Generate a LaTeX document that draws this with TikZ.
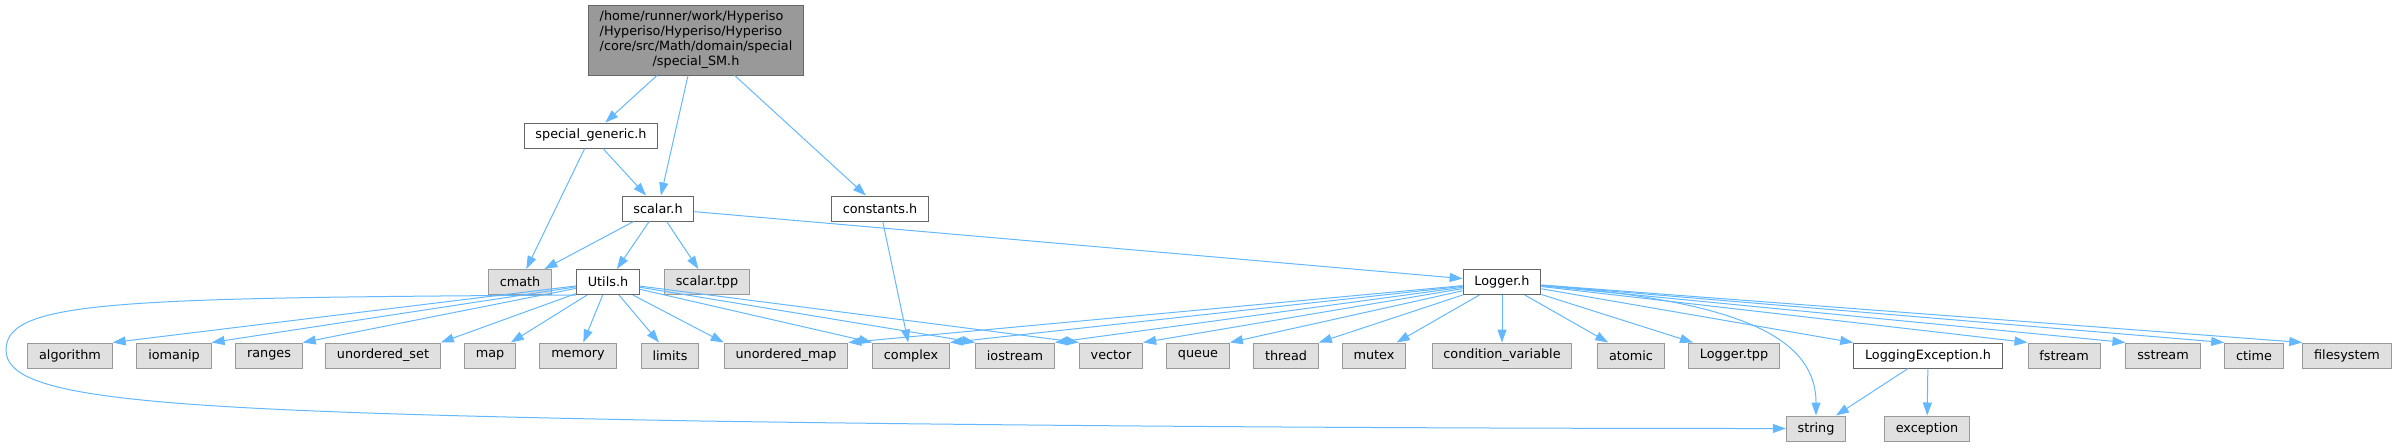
\documentclass[tikz,border=0pt]{standalone}
\usepackage{fontspec}
\setmainfont{DejaVu Sans}
\usetikzlibrary{arrows.meta}
\definecolor{edgeblue}{HTML}{63B8FF}
\definecolor{sysfill}{HTML}{E0E0E0}
\definecolor{sysdraw}{HTML}{999999}
\definecolor{rootfill}{HTML}{999999}
\definecolor{filedraw}{HTML}{666666}
\tikzset{
  base box/.style={rectangle, inner xsep=8.5pt, inner ysep=0pt, minimum height=18.75pt, line width=0.75pt, text=black, font=\fontsize{9.6pt}{11.25pt}\selectfont},
  root node/.style={base box, fill=rootfill, draw=filedraw, minimum height=52.5pt},
  file node/.style={base box, fill=white, draw=filedraw},
  sys node/.style={base box, fill=sysfill, draw=sysdraw},
  dep line/.style={-{Triangle[length=9.75pt, width=6.75pt]}, line width=0.75pt, edgeblue},
}

\begin{document}
\begin{tikzpicture}[x=0.75pt, y=-0.75pt]
  \useasboundingbox (0,0) rectangle (2404,447);
  % headers of the project
  \node[root node] (root) at (696,40) {\begin{tabular}{@{}l@{}}/home/runner/work/Hyperiso\\/Hyperiso/Hyperiso/Hyperiso\\/core/src/Math/domain/special\\\multicolumn{1}{@{}c@{}}{/special\_SM.h}\end{tabular}};
  \node[file node] (generic) at (591,135.5) {special\_generic.h};
  \node[file node] (scalar) at (658,208.5) {scalar.h};
  \node[file node] (constants) at (880,208.5) {constants.h};
  \node[file node] (utils) at (608,282) {Utils.h};
  \node[file node] (logger) at (1502,282) {Logger.h};
  \node[file node] (loggingexc) at (1928,355.5) {LoggingException.h};
  % system headers
  \node[sys node] (cmath) at (520,282) {cmath};
  \node[sys node] (scalartpp) at (707,282) {scalar.tpp};
  \node[sys node] (algorithm) at (70,355.5) {algorithm};
  \node[sys node] (iomanip) at (174,355.5) {iomanip};
  \node[sys node] (ranges) at (269,355.5) {ranges};
  \node[sys node] (unorderedset) at (383,355.5) {unordered\_set};
  \node[sys node] (map) at (490,355.5) {map};
  \node[sys node] (memory) at (578,355.5) {memory};
  \node[sys node] (limits) at (670,355.5) {limits};
  \node[sys node] (unorderedmap) at (786,355.5) {unordered\_map};
  \node[sys node] (complex) at (911,355.5) {complex};
  \node[sys node] (iostream) at (1015,355.5) {iostream};
  \node[sys node] (vector) at (1111,355.5) {vector};
  \node[sys node] (queue) at (1198,355.5) {queue};
  \node[sys node] (thread) at (1286,355.5) {thread};
  \node[sys node] (mutex) at (1374,355.5) {mutex};
  \node[sys node] (condvar) at (1502,355.5) {condition\_variable};
  \node[sys node] (atomic) at (1631,355.5) {atomic};
  \node[sys node] (loggertpp) at (1734,355.5) {Logger.tpp};
  \node[sys node] (fstream) at (2064,355.5) {fstream};
  \node[sys node] (sstream) at (2163,355.5) {sstream};
  \node[sys node] (ctime) at (2254,355.5) {ctime};
  \node[sys node] (filesystem) at (2347,355.5) {filesystem};
  \node[sys node] (string) at (1816,428.5) {string};
  \node[sys node] (exception) at (1927,428.5) {exception};

  % includes
  \draw[dep line] (root) -- (generic);
  \draw[dep line] (root) -- (scalar);
  \draw[dep line] (root) -- (constants);
  \draw[dep line] (generic) -- (scalar);
  \draw[dep line] (generic) -- (cmath);
  \draw[dep line] (scalar) -- (cmath);
  \draw[dep line] (scalar) -- (utils);
  \draw[dep line] (scalar) -- (scalartpp);
  \draw[dep line] (scalar) -- (logger);
  \draw[dep line] (constants) -- (complex);
  \foreach \t in {algorithm, iomanip, ranges, unorderedset}
    \draw[dep line] (utils) -- (\t.north east);
  \foreach \t in {map, memory, limits}
    \draw[dep line] (utils) -- (\t);
  \foreach \t in {unorderedmap, complex, iostream, vector}
    \draw[dep line] (utils) -- (\t.north west);
  \draw[dep line] (utils.south west) .. controls (120,298) and (6,300) .. (6,350)
    .. controls (6,400) and (150,411) .. (700,421) .. controls (1100,427) and (1500,428.5) .. (string.west);
  \foreach \t in {unorderedmap, complex, iostream, vector, queue, thread}
    \draw[dep line] (logger) -- (\t.north east);
  \foreach \t in {mutex, condvar, atomic, loggertpp, loggingexc}
    \draw[dep line] (logger) -- (\t);
  \foreach \t in {fstream, sstream, ctime, filesystem}
    \draw[dep line] (logger) -- (\t.north west);
  \draw[dep line] (logger) .. controls (1720,300) and (1816,330) .. (string.north);
  \draw[dep line] (loggingexc) -- (string);
  \draw[dep line] (loggingexc) -- (exception);
\end{tikzpicture}
\end{document}
